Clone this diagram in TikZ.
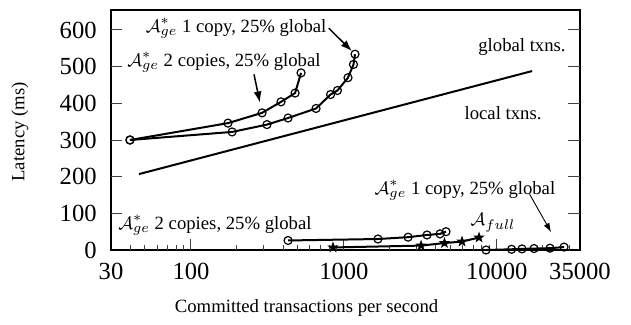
\documentclass[tikz,border=0pt]{standalone}
\usepackage{fontspec}
\setmainfont{Liberation Serif}
\usetikzlibrary{arrows.meta,shapes.geometric}

\begin{document}
\begin{tikzpicture}[x=76.45pt, y=0.18335pt,
    frm/.style={line width=0.8pt},
    curve/.style={line width=1pt, line join=round},
    opt/.style={circle, draw, line width=0.6pt, inner sep=0pt, minimum size=4pt},
    spt/.style={star, star points=5, star point ratio=2.5, fill, inner sep=0pt, minimum size=6pt},
    tck/.style={line width=0.5pt, black!75},
    tlab/.style={inner sep=0pt, font=\fontsize{12.3}{14}\selectfont},
    lab/.style={inner sep=1pt, font=\fontsize{9.35}{11}\selectfont},
    ann/.style={-{Latex[length=5.5pt,width=4pt]}, line width=0.75pt},
    annthin/.style={-{Latex[length=4.5pt,width=3.2pt]}, line width=0.45pt}
]
    \useasboundingbox (0.7511,-201.8) rectangle (4.8780,681.8);

    % axes box and ticks (x is log10 of txns/s)
    \draw[frm] (1.4771,0) rectangle (4.5441,654.5);
    \foreach \y in {100,200,...,600} {
        \draw[tck] (1.4771,\y) -- ++(5.5pt,0);
        \draw[tck] (4.5441,\y) -- ++(-6pt,0);
    }
    \foreach \y in {0,100,...,600}
        \node[tlab, anchor=east] (yl\y) at ([xshift=-7pt]1.4771,\y) {\y};
    \foreach \e in {2,3,4}
        \draw[tck] (\e,0) -- ++(0,5.5pt);
    \foreach \k in {4,...,9}
        \draw[tck] ({1+log10(\k)},0) -- ++(0,2.5pt);
    \foreach \d in {2,3}
        \foreach \k in {2,...,9}
            \draw[tck] ({\d+log10(\k)},0) -- ++(0,2.5pt);
    \foreach \k in {2,3}
        \draw[tck] ({4+log10(\k)},0) -- ++(0,2.5pt);
    \foreach \x/\t in {1.4771/30, 2/100, 3/1000, 4/10000, 4.5441/35000}
        \node[tlab, anchor=north] (xl\t) at ([yshift=-6.5pt]\x,0) {\t};

    \node[lab] (xlabel) at (2.756,-157) {Committed transactions per second};
    \node[lab, rotate=90] (ylabel) at (0.882,322) {Latency (ms)};

    % local / global divider
    \draw[curve] (1.660,207) -- (4.231,488);
    \node[lab] (glob) at (4.165,554) {global txns.};
    \node[lab] (loc) at (4.041,374) {local txns.};

    % A*ge 2 copies, global
    \foreach \n/\x/\y in {a1/1.601/300, a2/2.242/346, a3/2.465/374, a4/2.589/404, a5/2.681/428, a6/2.720/483}
        \node[opt] (\n) at (\x,\y) {};
    \draw[curve] (a1.center) \foreach \n in {a2,a3,a4,a5,a6} { -- (\n.center) };

    % A*ge 1 copy, global
    \foreach \n/\x/\y in {b1/1.601/300, b2/2.269/322, b3/2.497/342, b4/2.635/360, b5/2.818/386,
        b6/2.913/424, b7/2.958/435, b8/3.027/470, b9/3.063/506, b10/3.073/534}
        \node[opt] (\n) at (\x,\y) {};
    \draw[curve] (b1.center) \foreach \n in {b2,b3,b4,b5,b6,b7,b8,b9,b10} { -- (\n.center) };

    % A*ge 2 copies, local
    \foreach \n/\x/\y in {c1/2.635/26, c2/3.223/30, c3/3.420/35, c4/3.544/41, c5/3.629/44, c6/3.668/50}
        \node[opt] (\n) at (\x,\y) {};
    \draw[curve] (c1.center) \foreach \n in {c2,c3,c4,c5,c6} { -- (\n.center) };

    % A full
    \foreach \n/\x/\y in {d1/2.929/7, d2/3.505/12, d3/3.658/19, d4/3.773/23, d5/3.884/34}
        \node[spt] (\n) at (\x,\y) {};
    \draw[curve] (d1.center) \foreach \n in {d2,d3,d4,d5} { -- (\n.center) };

    % A*ge 1 copy, local
    \foreach \n/\x/\y in {e1/3.930/0, e2/4.097/2, e3/4.165/3, e4/4.244/4, e5/4.348/5, e6/4.440/8}
        \node[opt] (\n) at (\x,\y) {};
    \draw[curve] (e1.center) \foreach \n in {e2,e3,e4,e5,e6} { -- (\n.center) };

    % annotations
    \node[lab] (top1) at (2.295,605) {$\mathcal{A}^*_{ge}$ 1 copy, 25\% global};
    \node[lab] (top2) at (2.216,513) {$\mathcal{A}^*_{ge}$ 2 copies, 25\% global};
    \node[lab] (bot1) at (3.792,164) {$\mathcal{A}^*_{ge}$ 1 copy, 25\% global};
    \node[lab] (bot2) at (2.157,68) {$\mathcal{A}^*_{ge}$ 2 copies, 25\% global};
    \node[lab] (full) at (3.975,74) {$\mathcal{A}_{full}$};
    \coordinate (p3) at (4.355,49);
    \draw[ann] (top1.east) -- (b10);
    \draw[ann, shorten >=3pt] ([xshift=15pt]top2.south) -- (a3);
    \draw[annthin] ([xshift=-14pt,yshift=4pt]bot1.south east) -- (p3);
\end{tikzpicture}
\end{document}
